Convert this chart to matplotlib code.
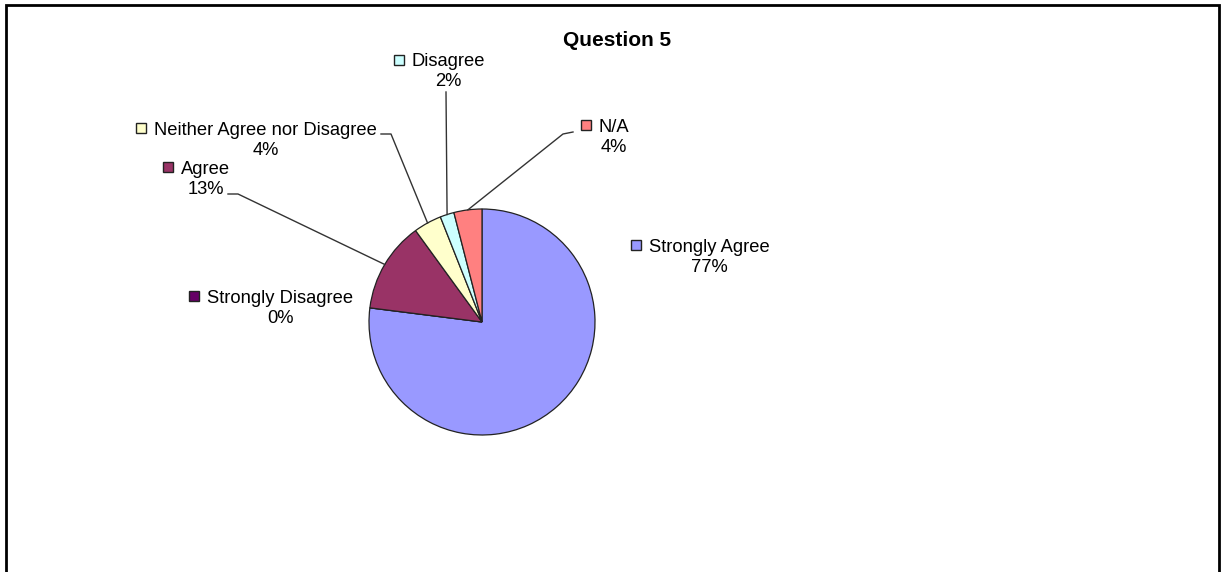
import numpy as np
import matplotlib
matplotlib.use("Agg")
import matplotlib.pyplot as plt
from matplotlib.patches import Rectangle

plt.rcParams['font.family'] = ['Liberation Sans', 'DejaVu Sans']

# data
categorias = ["Strongly Agree", "Strongly Disagree", "Agree",
              "Neither Agree nor Disagree", "Disagree", "N/A"]
valores = [77, 0, 13, 4, 2, 4]
colores = ["#9999FF", "#660066", "#993366", "#FFFFCC", "#CCFFFF", "#FF8080"]
titulo = "Question 5"

W, H = 1223, 572
fig = plt.figure(figsize=(W / 100, H / 100), dpi=100)
ax = fig.add_axes([0, 0, 1, 1])

def Y(py):
    return H - py

# pie (centre/radius in pixels)
cx, cy, r = 482, 322, 113
wedges, _ = ax.pie(valores, colors=colores, startangle=90, counterclock=False,
                   center=(cx, Y(cy)), radius=r,
                   wedgeprops=dict(edgecolor="#222222", linewidth=0.9))
ax.set_aspect('auto')
ax.set_xlim(0, W)
ax.set_ylim(0, H)
ax.axis('off')

# label layout: (text left x, baseline y of name) in pixels
pos_etiquetas = {
    "Strongly Agree": (649, 251.5),
    "Strongly Disagree": (207, 303),
    "Agree": (181, 174),
    "Neither Agree nor Disagree": (154, 135),
    "Disagree": (411.5, 66.5),
    "N/A": (598.5, 131.5),
}
# leader line start points (pixels), elbow included
lineas = {
    "Agree": [(228, 194), (238, 194)],
    "Neither Agree nor Disagree": [(381, 134), (391, 134)],
    "Disagree": [(446, 92)],
    "N/A": [(573, 132), (563, 134)],
}

fig.canvas.draw()
renderer = fig.canvas.get_renderer()
fs = 13.2
for cat, val, col, w in zip(categorias, valores, colores, wedges):
    lx, ly = pos_etiquetas[cat]
    t = ax.text(lx, Y(ly), cat, fontsize=fs, ha='left', va='baseline', color='black')
    bb = t.get_window_extent(renderer)
    mid = (bb.x0 + bb.x1) / 2
    ax.text(mid, Y(ly + 20), f"{val:.0f}%", fontsize=fs, ha='center', va='baseline', color='black')
    ax.plot(lx - 13, Y(ly - 7), marker='s', markersize=7, color=col,
            markeredgecolor='#222222', markeredgewidth=1.0)
    if cat in lineas:
        ang = np.deg2rad((w.theta1 + w.theta2) / 2)
        ex, ey = cx + r * np.cos(ang), Y(cy) + r * np.sin(ang)
        pts = lineas[cat]
        xs = [p[0] for p in pts] + [ex]
        ys = [Y(p[1]) for p in pts] + [ey]
        if cat == "N/A":
            xs = [pts[0][0], pts[1][0], ex]
        ax.plot(xs, ys, color='#333333', linewidth=1.0)

ax.text(617, Y(45.5), titulo, fontsize=15, fontweight='bold', ha='center', va='baseline')

# outer frame
ax.add_patch(Rectangle((6, Y(600)), 1213, 595, fill=False, edgecolor='black',
                       linewidth=2, clip_on=False))

fig.savefig("out.png", dpi=100)
